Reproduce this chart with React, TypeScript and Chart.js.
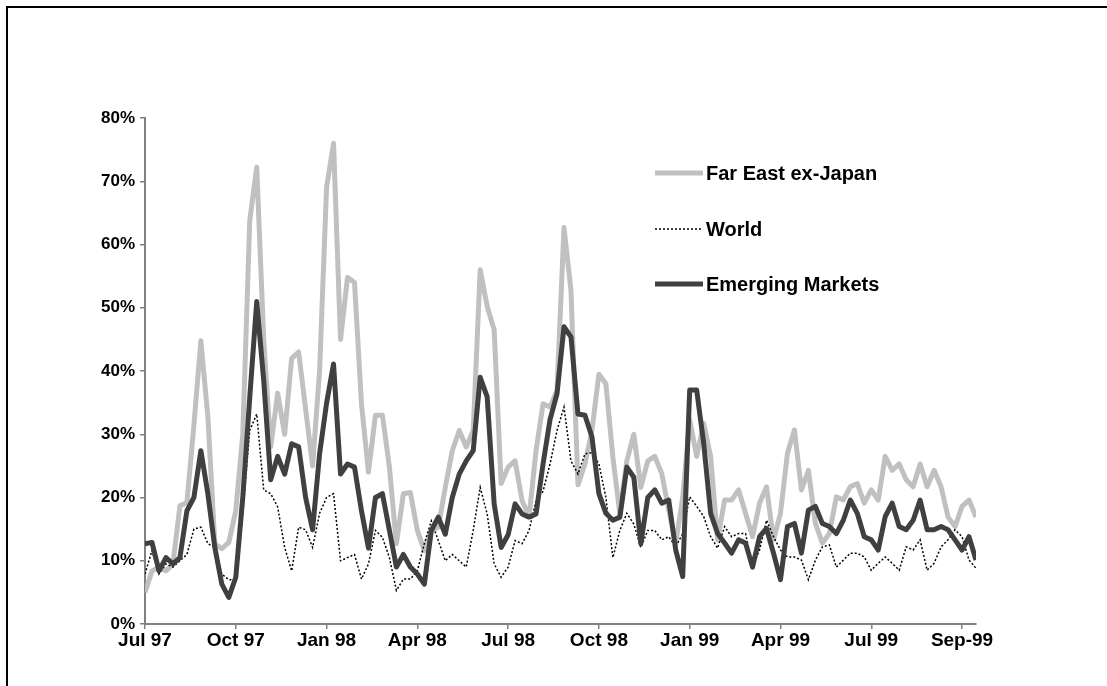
import React, { useEffect, useRef } from 'react';
import { Chart, registerables } from 'chart.js';

Chart.register(...registerables);

// Quarter tick labels and the weekly index at which each one sits
const tickLabels = ['Jul 97', 'Oct 97', 'Jan 98', 'Apr 98', 'Jul 98', 'Oct 98', 'Jan 99', 'Apr 99', 'Jul 99', 'Sep-99'];
const tickPositions = [0, 13, 26, 39, 52, 65, 78, 91, 104, 117];
const yTicks = [0, 10, 20, 30, 40, 50, 60, 70, 80];

const seriesNames = ['Far East ex-Japan', 'World', 'Emerging Markets'];

// Weekly volatility readings (%), Jul 1997 - Sep 1999
const farEast = [
  5, 8.4, 9, 8.4, 9.5, 18.7, 19.2, 31.4, 44.8, 32.8,
  12.7, 11.9, 12.9, 17.9, 30, 63.8, 72.2, 45, 28, 36.5,
  30, 42, 43, 34, 25, 40, 69, 76, 45, 54.8,
  54, 34.8, 24, 33, 33, 24.8, 12.7, 20.6, 20.8, 14.8,
  11.6, 14.8, 15.3, 21.6, 27.4, 30.6, 28, 30.6, 56, 50.2,
  46.5, 22.2, 24.8, 25.8, 19.5, 17, 27.4, 34.8, 34.3, 36.9,
  62.7, 52.7, 22, 25.3, 30.6, 39.5, 38, 26.4, 17.4, 25.8,
  30, 21.6, 25.8, 26.5, 23.8, 18, 12.8, 20, 32.3, 26.5,
  31.7, 26.5, 13.3, 19.6, 19.6, 21.2, 17.5, 13.8, 19.1, 21.7,
  13.3, 17.5, 27, 30.7, 21.2, 24.3, 15.9, 12.8, 14.3, 20.1,
  19.6, 21.7, 22.2, 19.1, 21.2, 19.6, 26.5, 24.3, 25.3, 22.8,
  21.7, 25.3, 21.7, 24.3, 21.7, 16.9, 15.4, 18.6, 19.6, 16.9,
];

const world = [
  7.9, 11.6, 7.9, 9.5, 9, 10, 11, 15, 15.3, 12.7,
  12.1, 7.9, 7, 7, 17.5, 30.6, 33.2, 21.2, 20.6, 18.5,
  12.1, 8.4, 15.3, 14.9, 12.1, 17.5, 20, 20.6, 10, 10.5,
  11, 7.1, 9.5, 14.8, 13.7, 10.5, 5.3, 7.1, 7.1, 8.4,
  12.7, 16.3, 13.2, 10, 11, 10, 9, 14.8, 21.6, 17.4,
  9.5, 7.4, 9, 13.2, 12.7, 14.8, 19.5, 21, 25.3, 30.6,
  34.3, 25.8, 23.7, 26.9, 27.1, 25.3, 20, 10.5, 14.8, 17.5,
  15.8, 12.1, 14.8, 14.8, 13.3, 13.8, 12.2, 14.3, 20.1, 18.6,
  17, 13.8, 12, 15.4, 13.8, 14.3, 14.3, 9, 11.7, 16.4,
  13.8, 11.7, 10.6, 10.6, 10.1, 7, 10.1, 12.2, 12.5, 9,
  10.1, 11.2, 11.2, 10.6, 8.5, 9.6, 10.6, 9.6, 8.5, 12.2,
  11.7, 13.3, 8.5, 9.6, 12.2, 13.3, 14.9, 13.8, 10.1, 8.8,
];

const emerging = [
  12.7, 12.9, 8.4, 10.5, 9.5, 10.5, 17.9, 20, 27.4, 20.6,
  12.1, 6.3, 4.2, 7.4, 20, 35.8, 51, 38.5, 22.8, 26.5,
  23.7, 28.5, 28, 20, 14.9, 26.9, 34.9, 41.1, 23.7, 25.3,
  24.8, 17.9, 12, 20, 20.6, 14.8, 9, 11, 9, 7.9,
  6.3, 14.8, 16.9, 14.2, 20, 23.7, 25.8, 27.4, 39, 35.9,
  19, 12.1, 14.1, 19, 17.4, 16.9, 17.4, 25.3, 32.3, 36.4,
  47, 45.4, 33.2, 33, 29.6, 20.6, 17.5, 16.4, 16.9, 24.8,
  23.2, 12.7, 20, 21.2, 19.1, 19.6, 11.7, 7.5, 37, 37,
  28.6, 17.5, 14.3, 12.8, 11.2, 13.3, 12.8, 9, 13.8, 15.1,
  11.2, 7, 15.4, 15.9, 11.2, 18, 18.6, 15.9, 15.4, 14.3,
  16.4, 19.6, 17.5, 13.8, 13.3, 11.7, 17, 19.1, 15.4, 14.9,
  16.4, 19.6, 14.9, 14.9, 15.4, 14.9, 13.3, 11.7, 13.8, 10.1,
];

const FONT = '"Liberation Sans", Arial, Helvetica, sans-serif';

const sideLegend = {
  id: 'sideLegend',
  afterDraw(chart: any) {
    const ctx = chart.ctx;
    const area = chart.chartArea;
    const x0 = area.left + 510;
    const x1 = area.left + 558;
    const tx = area.left + 561;
    const rows = [area.top + 55, area.top + 111, area.top + 166];
    chart.data.datasets.forEach((ds: any, i: number) => {
      ctx.save();
      ctx.strokeStyle = ds.borderColor;
      ctx.lineWidth = ds.borderWidth;
      ctx.lineCap = 'butt';
      ctx.setLineDash(ds.borderDash || []);
      ctx.beginPath();
      ctx.moveTo(x0, rows[i]);
      ctx.lineTo(x1, rows[i]);
      ctx.stroke();
      ctx.setLineDash([]);
      ctx.fillStyle = '#000';
      ctx.font = `bold 20px ${FONT}`;
      ctx.textAlign = 'left';
      ctx.textBaseline = 'middle';
      ctx.fillText(ds.label, tx, rows[i] + 1);
      ctx.restore();
    });
  },
};

export default function App() {
  const ref = useRef<HTMLCanvasElement | null>(null);

  useEffect(() => {
    if (!ref.current) return;
    const toPts = (arr: number[]) => arr.map((v, i) => ({ x: i, y: v }));
    const chart = new Chart(ref.current, {
      type: 'line',
      data: {
        datasets: [
          {
            label: seriesNames[0],
            data: toPts(farEast),
            borderColor: '#c0c0c0',
            borderWidth: 5,
            pointRadius: 0,
            tension: 0,
            borderJoinStyle: 'round',
            order: 3,
          },
          {
            label: seriesNames[1],
            data: toPts(world),
            borderColor: '#000000',
            borderWidth: 1.5,
            borderDash: [2, 2],
            pointRadius: 0,
            tension: 0,
            order: 2,
          },
          {
            label: seriesNames[2],
            data: toPts(emerging),
            borderColor: '#404040',
            borderWidth: 5,
            pointRadius: 0,
            tension: 0,
            borderJoinStyle: 'round',
            order: 1,
          },
        ],
      },
      options: {
        responsive: false,
        animation: false,
        devicePixelRatio: 1,
        layout: { padding: { left: 0, top: 118, right: 131, bottom: 22 } },
        plugins: {
          legend: { display: false },
          tooltip: { enabled: false },
        },
        scales: {
          x: {
            type: 'linear',
            min: 0,
            max: 119,
            afterBuildTicks: (axis: any) => {
              axis.ticks = tickPositions.map((v) => ({ value: v }));
            },
            afterFit: (axis: any) => {
              axis.height = 40;
            },
            border: { color: '#808080', width: 2 },
            grid: {
              drawOnChartArea: false,
              drawTicks: true,
              tickLength: 5,
              color: '#808080',
              lineWidth: 1.5,
            },
            ticks: {
              autoSkip: false,
              maxRotation: 0,
              padding: 0,
              color: '#000',
              font: { family: FONT, size: 19, weight: 'bold' },
              callback: (value: any) => tickLabels[tickPositions.indexOf(Number(value))] ?? '',
            },
          },
          y: {
            min: 0,
            max: 80,
            afterBuildTicks: (axis: any) => {
              axis.ticks = yTicks.map((v) => ({ value: v }));
            },
            afterFit: (axis: any) => {
              axis.width = 145;
            },
            border: { color: '#808080', width: 2 },
            grid: {
              drawOnChartArea: false,
              drawTicks: true,
              tickLength: 5,
              color: '#808080',
              lineWidth: 1.5,
            },
            ticks: {
              padding: 5,
              color: '#000',
              font: { family: FONT, size: 17, weight: 'bold' },
              callback: (value: any) => `${value}%`,
            },
          },
        },
      },
      plugins: [sideLegend],
    });
    return () => chart.destroy();
  }, []);

  return (
    <div style={{ position: 'fixed', left: 0, top: 0, width: 1107, height: 686, overflow: 'hidden', background: '#fff' }}>
      <div
        style={{
          position: 'absolute',
          left: 6,
          top: 6,
          width: 1200,
          height: 800,
          borderTop: '2px solid #000',
          borderLeft: '2px solid #000',
          boxSizing: 'border-box',
        }}
      />
      <canvas
        ref={ref}
        width={1107}
        height={686}
        style={{ position: 'absolute', left: 0, top: 0, width: 1107, height: 686 }}
      />
    </div>
  );
}
